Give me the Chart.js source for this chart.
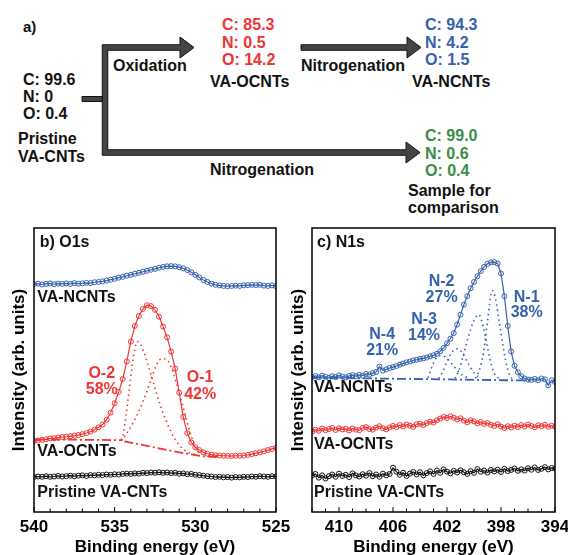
<!DOCTYPE html>
<html>
<head>
<meta charset="utf-8">
<script src="https://cdn.jsdelivr.net/npm/chart.js@4.4.1/dist/chart.umd.min.js"></script>
<style>
  body { margin: 0; background: #fff; width: 568px; height: 555px; overflow: hidden; position: relative;
         font-family: "Liberation Sans", Arial, sans-serif; font-weight: bold; }
  .t { position: absolute; font-size: 16px; line-height: 18px; white-space: nowrap; color: #111; }
  .red { color: #ee3535; }
  .blue { color: #3561ae; }
  .green { color: #3a8c46; }
  #scheme { position: absolute; left: 0; top: 0; }
  .panel { position: absolute; }
</style>
</head>
<body>

<svg id="scheme" width="568" height="220">
  <g fill="#444" stroke="#111" stroke-width="1" stroke-linejoin="miter">
    <path d="M82,96.5 L103,96.5 L103,101.5 L82,101.5 Z"/>
    <path d="M102.25,44.75 L180,44.75 L180,37 L194,47.5 L180,58 L180,50.25 L107.75,50.25 L107.75,149.75 L406,149.75 L406,142 L420,152.5 L406,163 L406,155.25 L102.25,155.25 Z"/>
    <path d="M301,44.75 L407,44.75 L407,37 L421,47.5 L407,58 L407,50.25 L301,50.25 Z"/>
  </g>
</svg>

<div class="t" style="left:23px;top:18px;font-size:15px">a)</div>
<div class="t" style="left:23px;top:71px;line-height:17px">C: 99.6<br>N: 0<br>O: 0.4</div>
<div class="t" style="left:18px;top:130px">Pristine<br>VA-CNTs</div>
<div class="t" style="left:113px;top:57px">Oxidation</div>
<div class="t red" style="left:222px;top:16px;line-height:17.5px">C: 85.3<br>N: 0.5<br>O: 14.2</div>
<div class="t" style="left:210px;top:73px">VA-OCNTs</div>
<div class="t" style="left:301px;top:57px">Nitrogenation</div>
<div class="t blue" style="left:425px;top:16px;line-height:17.5px">C: 94.3<br>N: 4.2<br>O: 1.5</div>
<div class="t" style="left:412px;top:73px">VA-NCNTs</div>
<div class="t" style="left:210px;top:161px">Nitrogenation</div>
<div class="t green" style="left:425px;top:127px;line-height:17.5px">C: 99.0<br>N: 0.6<br>O: 0.4</div>
<div class="t" style="left:408px;top:182px;line-height:17px">Sample for<br>comparison</div>

<div class="panel" style="left:0;top:218px;width:296px;height:337px"><canvas id="o1s"></canvas></div>
<div class="panel" style="left:278px;top:218px;width:290px;height:337px"><canvas id="n1s"></canvas></div>

<script>
// ---- O1s panel data (binding energy in eV, intensity in arb. units) ----
const o1sEnergy = [540,539.75,539.5,539.25,539,538.75,538.5,538.25,538,537.75,537.5,537.25,537,536.75,536.5,536.25,536,
  535.75,535.5,535.25,535,534.75,534.5,534.25,534,533.75,533.5,533.25,533,532.75,532.5,532.25,532,531.75,531.5,531.25,531,
  530.75,530.5,530.25,530,529.75,529.5,529.25,529,528.75,528.5,528.25,528,527.75,527.5,527.25,527,526.75,526.5,526.25,526,
  525.75,525.5,525.25,525];
const o1sNCNT = [80.2, 80.4,80.1,80.3,80.5, 80.2,80.4,80.3,80.5, 80.3,80.6,80.4,80.5, 80.7,80.6,80.9,81.0,
  81.2,81.5,81.8,82.1, 82.5,82.8,83.2,83.5, 83.9,84.2,84.6,84.9, 85.3,85.6,86.0,86.3, 86.5,86.6,86.5,86.2,
  85.8,85.2,84.4,83.5, 82.6,81.7,81.0,80.4, 80.0,79.8,79.6,79.5, 79.6,79.7,79.6,79.8, 79.9,80.0,79.9,80.0,
  79.7,79.6,79.8,79.5];
const o1sOCNT = [25.0, 25.2,25.4,25.6,25.9, 26.0,26.2,26.4,26.5, 26.7,26.9,27.1,27.4, 27.8,28.3,29.0,29.8,
  30.8,32.5,35.0,38.3, 42.3,46.8,53.0,60.0, 65.5,69.0,71.5,72.8, 72.5,71.2,68.8,65.3, 61.5,56.5,50.5,42.0,
  33.5,27.8,24.5,22.8, 21.8,21.0,20.5,20.2, 20.0,19.9,19.8,19.8, 19.7,19.8,19.8,19.9, 20.1,20.4,20.7,21.0,
  21.4,21.8,22.2,22.6];
const o1sPristine = [12.3, 12.5,12.4,12.6,12.4, 12.5,12.7,12.5,12.6, 12.8,12.6,12.8,12.9, 12.7,13.0,12.9,13.1,
  13.0,13.2,13.1,13.3, 13.2,13.4,13.5,13.4, 13.6,13.5,13.8,13.7, 13.9,13.8,14.0,13.8, 13.9,13.7,13.8,13.5,
  13.6,13.3,13.4,13.1, 13.0,12.8,12.6,12.5, 12.3,12.4,12.2,12.3, 12.1,12.3,12.2,12.4, 12.3,12.5,12.4,12.6,
  12.5,12.4,12.6,12.5];
// peak fit components and background for VA-OCNTs, [eV, intensity]
const o1sFitO2 = [[534.6,25.3],[534.45,28],[534.3,34],[534.1,43],[533.9,52],[533.75,57.5],[533.6,60],[533.4,59],
  [533.2,56.5],[533.0,53],[532.75,48.5],[532.5,43.5],[532.2,38],[531.8,32],[531.4,27],[531.0,23.5],[530.5,21.2],[530.0,20.2]];
const o1sFitO1 = [[534.4,26.4],[534.0,30],[533.5,35.5],[533.0,42.5],[532.7,47.5],[532.4,51.8],[532.1,54],[531.8,53.8],
  [531.5,51],[531.2,46],[530.9,40],[530.6,33.5],[530.3,27.5],[530.0,23],[529.7,20.5]];
const o1sBackground = [[540,25.6],[534.5,25.3]];
const o1sBackground2 = [[534.4,24.9],[531,21.0],[529.5,19.6],[528.5,19.4]];
const o1sTicks = [540, 535, 530, 525];

// ---- N1s panel data ----
const n1sEnergy = [412,411.75,411.5,411.25,411,410.75,410.5,410.25,410,409.75,409.5,409.25,409,408.75,408.5,408.25,408,
  407.75,407.5,407.25,407,406.75,406.5,406.25,406,405.75,405.5,405.25,405,404.75,404.5,404.25,404,403.75,403.5,403.25,403,
  402.75,402.5,402.25,402,401.75,401.5,401.25,401,400.75,400.5,400.25,400,399.75,399.5,399.25,399,398.75,398.5,398.25,398,
  397.75,397.5,397.25,397,396.75,396.5,396.25,396,395.75,395.5,395.25,395,394.75,394.5,394.25,394];
const n1sNCNT = [47.5, 47.9,47.4,48.0,47.6, 47.2,47.8,47.5,48.1, 47.7,47.4,47.9,48.2, 47.8,48.3,48.0,48.6,
  48.4,48.9,49.3,51.2, 49.8,50.2,50.7,51.0, 51.4,51.9,52.3,52.7, 53.0,53.4,53.6,53.9, 54.1,54.4,54.8,55.2,
  55.7,56.6,57.8,59.4, 61.0,63.0,66.0,69.5, 73.0,76.0,78.8,81.0, 83.0,84.8,86.3,87.4, 87.9,88.0,87.5,84.0,
  76.0,65.5,56.5,51.5, 49.2,47.8,47.0,46.6, 46.5,46.9,46.4,47.0, 46.7,44.6,46.4,45.8];
const n1sOCNT = [28.3, 29.0,28.6,29.4,28.8, 29.2,29.6,28.9,29.5, 29.1,29.3,28.7,29.4, 29.0,28.8,29.6,29.9,
  29.2,29.0,29.7,30.2, 29.5,29.1,29.8,30.3, 29.9,30.6,30.1,30.8, 30.4,30.0,30.9,31.1, 30.6,31.3,31.8,31.5,
  32.3,32.9,33.5,33.1, 33.7,33.2,32.6,33.0, 32.2,31.6,32.3,31.9, 31.2,31.7,31.0,31.4, 30.7,30.3,30.9,30.1,
  29.6,30.2,29.8,30.4, 29.9,30.6,30.1,30.8, 30.3,29.8,30.5,30.2, 30.7,30.0,30.4,30.1];
const n1sPristine = [12.8, 13.4,12.1,12.9,11.8, 12.6,13.2,12.4,13.5, 12.7,13.1,12.3,13.6, 12.9,12.5,13.3,12.8,
  13.7,12.6,13.2,12.4, 13.5,12.9,13.4,15.6, 14.2,13.1,13.8,12.7, 13.5,14.1,13.2,14.0, 12.9,13.7,14.3,13.4,
  14.6,13.8,15.0,14.2, 13.6,14.5,13.9,14.7, 14.0,13.4,14.4,13.8, 15.1,14.2,14.6,13.9, 14.8,14.3,14.9,14.1,
  15.2,14.4,14.8,15.3, 14.5,15.0,14.6,15.4, 14.9,15.7,14.8,15.2, 15.8,15.0,15.5,15.3];
const n1sFitN1 = [[399.9,47],[399.6,50],[399.3,56],[399.0,67],[398.8,75],[398.65,78],[398.4,75],[398.1,66],[397.8,57],[397.5,50],[397.2,47]];
const n1sFitN2 = [[401.4,47],[401.1,50],[400.8,55],[400.4,62],[400.0,67.5],[399.65,69.5],[399.3,65],[399.0,58],[398.7,51.5],[398.4,48],[398.1,47]];
const n1sFitN3 = [[402.6,47],[402.3,49.5],[402.0,53],[401.6,56.5],[401.2,57.5],[400.8,55.5],[400.4,52],[400.0,49],[399.6,47.2]];
const n1sFitN4 = [[403.4,47.2],[403.2,50],[402.9,53.5],[402.5,55],[402.1,54.5],[401.7,52.5],[401.3,50.2],[400.9,48.3],[400.5,47.3]];
const n1sBackground = [[412,47.3],[395.9,46.3]];
const n1sTicks = [410, 406, 402, 398, 394];

const RED = '#ee3535', BLUE = '#3561ae', BLACK = '#111';
const FONT = '"Liberation Sans", Arial, sans-serif';

// in-plot annotations, placed in data coordinates
const o1sLabels = [
  { text: 'b) O1s', x: 539.65, y: 94.7, color: BLACK, align: 'left' },
  { text: 'VA-NCNTs', x: 539.8, y: 75.4, color: BLACK, align: 'left' },
  { text: 'VA-OCNTs', x: 539.8, y: 21.1, color: BLACK, align: 'left' },
  { text: 'Pristine VA-CNTs', x: 539.8, y: 7.0, color: BLACK, align: 'left' },
  { text: 'O-2', x: 535.8, y: 48.9, color: RED, align: 'center' },
  { text: '58%', x: 535.8, y: 43.0, color: RED, align: 'center' },
  { text: 'O-1', x: 529.7, y: 47.5, color: RED, align: 'center' },
  { text: '42%', x: 529.7, y: 41.2, color: RED, align: 'center' }
];
const n1sLabels = [
  { text: 'c) N1s', x: 411.63, y: 94.7, color: BLACK, align: 'left' },
  { text: 'VA-NCNTs', x: 411.85, y: 43.7, color: BLACK, align: 'left' },
  { text: 'VA-OCNTs', x: 411.85, y: 23.6, color: BLACK, align: 'left' },
  { text: 'Pristine VA-CNTs', x: 411.85, y: 6.7, color: BLACK, align: 'left' },
  { text: 'N-4', x: 406.8, y: 62.3, color: BLUE, align: 'center' },
  { text: '21%', x: 406.8, y: 56.7, color: BLUE, align: 'center' },
  { text: 'N-3', x: 403.7, y: 67.6, color: BLUE, align: 'center' },
  { text: '14%', x: 403.7, y: 62.0, color: BLUE, align: 'center' },
  { text: 'N-2', x: 402.4, y: 81.0, color: BLUE, align: 'center' },
  { text: '27%', x: 402.4, y: 75.4, color: BLUE, align: 'center' },
  { text: 'N-1', x: 396.1, y: 75.4, color: BLUE, align: 'center' },
  { text: '38%', x: 396.1, y: 70.1, color: BLUE, align: 'center' }
];

Chart.defaults.font.family = FONT;
Chart.defaults.font.weight = 'bold';
Chart.defaults.color = BLACK;

function series(xs, ys) {
  return xs.map((x, i) => ({ x: x, y: ys[i] }));
}
function pairs(list) {
  return list.map(p => ({ x: p[0], y: p[1] }));
}
function dataSet(xs, ys, color) {
  return {
    data: series(xs, ys), borderColor: color, borderWidth: 1.2,
    pointRadius: 2.5, pointBorderWidth: 1, pointBorderColor: color,
    pointBackgroundColor: 'rgba(255,255,255,0)', tension: 0
  };
}
function fitSet(list, color) {
  return { data: pairs(list), borderColor: color, borderWidth: 1.6, borderDash: [1.5, 3.5],
           pointRadius: 0, cubicInterpolationMode: 'monotone' };
}
function backgroundSet(list, color) {
  return { data: pairs(list), borderColor: color, borderWidth: 1.8, borderDash: [9, 3, 2, 3], pointRadius: 0 };
}

// draws the closed frame, inward ticks and the text labels
const framePlugin = {
  id: 'frame',
  afterDatasetsDraw(chart, args, opts) {
    const { ctx, chartArea: a } = chart;
    const x = chart.scales.x, y = chart.scales.y;
    ctx.save();
    ctx.strokeStyle = '#000';
    ctx.lineWidth = 1.5;
    ctx.strokeRect(a.left, a.top, a.right - a.left, a.bottom - a.top);
    ctx.lineWidth = 1;
    ctx.beginPath();
    for (let v = Math.ceil(x.min); v <= x.max; v++) {
      const px = x.getPixelForValue(v);
      const len = opts.major.includes(v) ? 5 : 3.5;
      ctx.moveTo(px, a.bottom);
      ctx.lineTo(px, a.bottom - len);
    }
    ctx.stroke();
    ctx.font = 'bold 16px ' + FONT;
    ctx.textBaseline = 'middle';
    opts.labels.forEach(l => {
      ctx.fillStyle = l.color;
      ctx.textAlign = l.align;
      ctx.fillText(l.text, x.getPixelForValue(l.x), y.getPixelForValue(l.y));
    });
    ctx.restore();
  }
};

function makePanel(id, cfg) {
  return new Chart(document.getElementById(id), {
    type: 'line',
    data: { datasets: cfg.datasets },
    plugins: [framePlugin],
    options: {
      responsive: true,
      maintainAspectRatio: false,
      animation: false,
      events: [],
      layout: { padding: { top: 10, right: cfg.padRight, bottom: 0, left: 0 } },
      plugins: {
        legend: { display: false },
        tooltip: { enabled: false },
        frame: { labels: cfg.labels, major: cfg.ticks }
      },
      scales: {
        x: {
          type: 'linear', min: cfg.min, max: cfg.max, reverse: true,
          afterBuildTicks: s => { s.ticks = cfg.ticks.map(v => ({ value: v })); },
          afterFit: s => { s.height = 43; s.paddingLeft = 0; s.paddingRight = 0; },
          ticks: { color: '#000', font: { size: 17, weight: 'bold' }, padding: 5, maxRotation: 0, autoSkip: false },
          grid: { display: false, drawTicks: false },
          border: { display: false },
          title: { display: true, text: 'Binding energy (eV)', color: '#000',
                   font: { size: 17, weight: 'bold', lineHeight: 1 }, padding: { top: 0, bottom: -1 } }
        },
        y: {
          min: 0, max: 100,
          afterFit: s => { s.width = 34; },
          ticks: { display: false },
          grid: { display: false, drawTicks: false },
          border: { display: false },
          title: { display: true, text: 'Intensity (arb. units)', color: '#000',
                   font: { size: 17, weight: 'bold', lineHeight: 1 }, padding: { top: cfg.titlePad, bottom: 0 } }
        }
      }
    }
  });
}

makePanel('o1s', {
  min: 525, max: 540, ticks: o1sTicks, labels: o1sLabels, padRight: 20, titlePad: 10.5,
  datasets: [
    dataSet(o1sEnergy, o1sNCNT, BLUE),
    dataSet(o1sEnergy, o1sOCNT, RED),
    dataSet(o1sEnergy, o1sPristine, BLACK),
    fitSet(o1sFitO2, RED),
    fitSet(o1sFitO1, RED),
    backgroundSet(o1sBackground, RED),
    backgroundSet(o1sBackground2, RED)
  ]
});

makePanel('n1s', {
  min: 394, max: 412, ticks: n1sTicks, labels: n1sLabels, padRight: 13, titlePad: 11.5,
  datasets: [
    dataSet(n1sEnergy, n1sNCNT, BLUE),
    dataSet(n1sEnergy, n1sOCNT, RED),
    dataSet(n1sEnergy, n1sPristine, BLACK),
    fitSet(n1sFitN1, BLUE),
    fitSet(n1sFitN2, BLUE),
    fitSet(n1sFitN3, BLUE),
    fitSet(n1sFitN4, BLUE),
    backgroundSet(n1sBackground, BLUE)
  ]
});
</script>
</body>
</html>
